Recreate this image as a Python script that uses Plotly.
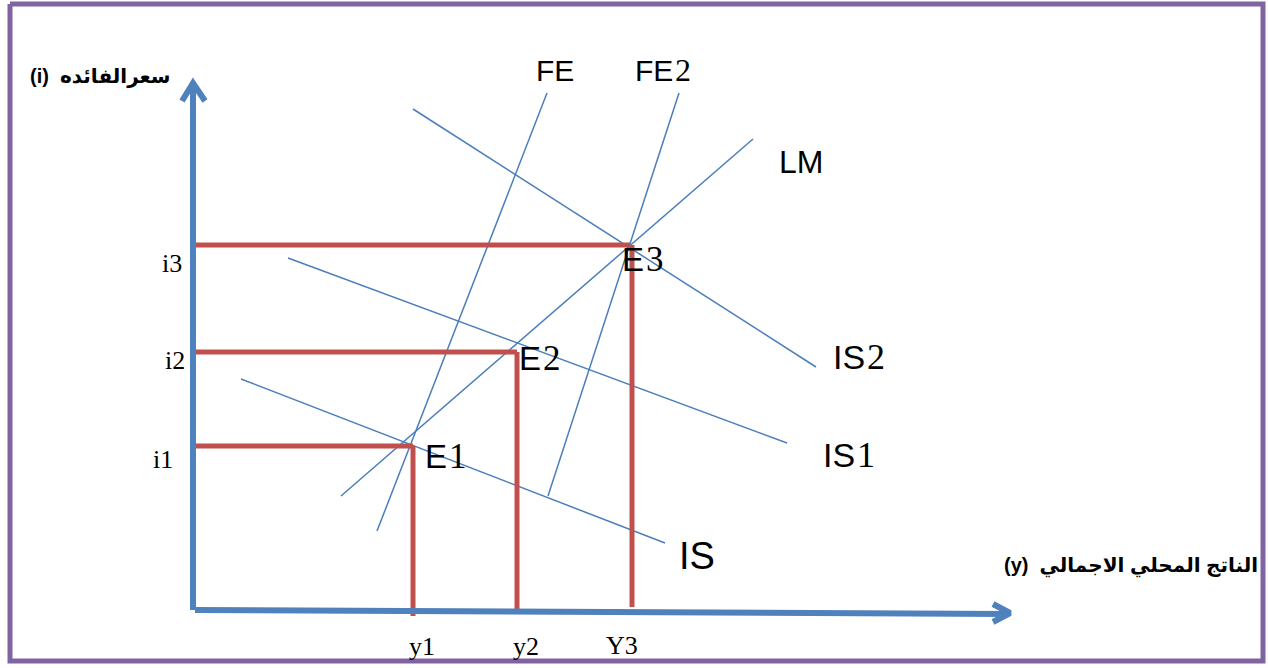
import plotly.graph_objects as go

# Diagram units: origin at the corner of the two axes (x to the right, y up)
X_RANGE = [-193, 1075]
Y_RANGE = [-58, 610]

# Axes (shaft + chevron arrow heads)
y_axis_x = [0, 0]
y_axis_y = [0, 525]
y_head_x = [-11, 0, 12]
y_head_y = [509, 527, 509]
x_axis_x = [2, 815]
x_axis_y = [0, -4]
x_head_x = [800, 817, 800]
x_head_y = [6, -3, -12]

# Equilibrium levels (red guides)
i_levels = {"i1": 164, "i2": 259, "i3": 365}
y_levels = {"y1": 220, "y2": 324, "Y3": 439}
guide_x_start = [-1, -1, -3]
guide_x_end = [220, 324, 437]
guide_y_end = [164, 258, 365]
guide_bottom = [-6, -2, 3]

# Curves: (x0, y0) -> (x1, y1)
curve_names = ["FE", "FE2", "LM", "IS", "IS1", "IS2"]
curve_x0 = [184, 355, 148, 48, 95, 220]
curve_y0 = [79, 114, 114, 231, 352, 501]
curve_x1 = [354, 486, 560, 472, 594, 623]
curve_y1 = [517, 517, 471, 67, 167, 243]

# Labels: sans-serif letters followed by a serif digit, split at a given x
label_text = ["FE", "FE", "LM", "IS", "IS", "IS", "E", "E", "E"]
label_digit = ["", "2", "", "", "1", "2", "1", "2", "3"]
label_split_x = [382, 481, 631, 523, 663, 673, 255, 349, 452]
label_y = [540, 540, 448, 54, 155, 253, 154, 252, 351]
label_size = [30, 30, 32, 38, 34, 34, 33, 33, 33]

i_label_x = [-30, -18, -21]
i_label_y = [151, 250, 347]
y_label_x = [229, 333, 429]
y_label_y = [-36, -36, -35]

title_y = "(i)  سعرالفائده"
title_x = "(y)  الناتج المحلي الاجمالي"

# Frame
frame_x = [-183, 1070, 1070, -183, -183]
frame_y = [606, 606, -51, -51, 606]

BLUE = "#4F81BD"
THIN = "#4A7EBB"
RED = "#C0504D"
PURPLE = "#8064A2"
SERIF = "Liberation Serif, Times New Roman, serif"
SANS = "Arial, Liberation Sans, DejaVu Sans, sans-serif"

fig = go.Figure()

def add_line(xs, ys, color, width):
    fig.add_trace(go.Scatter(x=xs, y=ys, mode="lines", line=dict(color=color, width=width),
                             hoverinfo="skip", showlegend=False))

add_line(frame_x, frame_y, PURPLE, 5)

for x0, y0, x1, y1 in zip(curve_x0, curve_y0, curve_x1, curve_y1):
    add_line([x0, x1], [y0, y1], THIN, 1.5)

for xs, xe, ye in zip(guide_x_start, guide_x_end, guide_y_end):
    add_line([xs, xe], [ye, ye], RED, 5)
for xv, ye, yb in zip(y_levels.values(), guide_y_end, guide_bottom):
    add_line([xv, xv], [ye, yb], RED, 5)

add_line(y_axis_x, y_axis_y, BLUE, 6)
add_line(y_head_x, y_head_y, BLUE, 6)
add_line(x_axis_x, x_axis_y, BLUE, 6)
add_line(x_head_x, x_head_y, BLUE, 6)

def label(x, y, text, size, family=SANS, bold=False, anchor="center"):
    fig.add_annotation(x=x, y=y, xref="x", yref="y", text=(f"<b>{text}</b>" if bold else text),
                       showarrow=False, font=dict(family=family, size=size, color="black"),
                       xanchor=anchor, yanchor="middle", borderpad=0)

for t, d, x, y, s in zip(label_text, label_digit, label_split_x, label_y, label_size):
    label(x, y, t, s, anchor="right")
    if d:
        label(x, y, d, s + 2, family=SERIF, anchor="left")
for t, x, y in zip(i_levels.keys(), i_label_x, i_label_y):
    label(x, y, t, 26, family=SERIF)
for t, x, y in zip(y_levels.keys(), y_label_x, y_label_y):
    label(x, y, t, 26, family=SERIF)

label(-93, 534, title_y, 20, family="Arial, DejaVu Sans, sans-serif", bold=True)
label(938, 44, title_x, 20, family="Arial, DejaVu Sans, sans-serif", bold=True)

fig.update_layout(
    width=1268, height=668,
    margin=dict(l=0, r=0, t=0, b=0),
    paper_bgcolor="white", plot_bgcolor="white",
    xaxis=dict(range=X_RANGE, visible=False, fixedrange=True),
    yaxis=dict(range=Y_RANGE, visible=False, fixedrange=True),
)

fig.write_html("out.html", config={"displayModeBar": False},
               post_script="document.body.style.margin='0';document.body.style.overflow='hidden';")
